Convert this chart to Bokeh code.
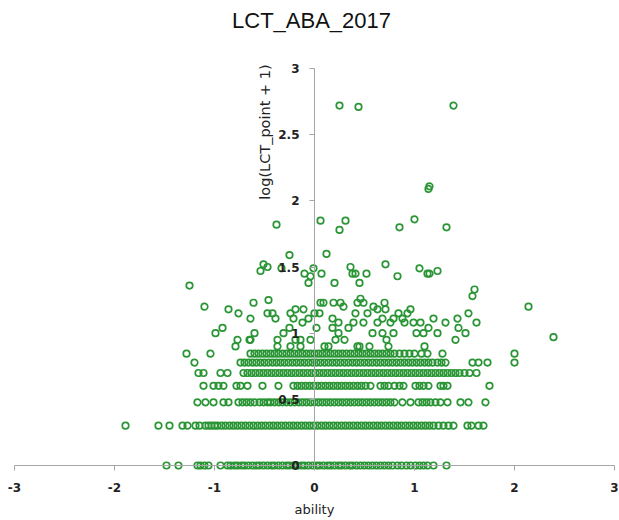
import math
from bokeh.plotting import figure
from bokeh.models import (LinearAxis, FixedTicker, Range1d, Label,
                          CustomJSTickFormatter, ColumnDataSource)
from bokeh.embed import file_html
from bokeh.resources import INLINE

# ---- data (ability vs log10(LCT_point + 1)) ----
row_0 = [-1.48, -1.36, -1.17, -1.14, -1.10, -1.06, -0.94, -0.87, -0.84, -0.80, -0.77, -0.73,
         -0.70, -0.66, -0.62, -0.58, -0.55, -0.51, -0.47, -0.43, -0.40, -0.36, -0.32, -0.28,
         -0.25, -0.21, -0.17, -0.13, -0.10, -0.06, -0.02, 0.02, 0.05, 0.09, 0.13, 0.16, 0.20,
         0.24, 0.27, 0.31, 0.35, 0.38, 0.42, 0.46, 0.50, 0.54, 0.58, 0.62, 0.66, 0.70, 0.74,
         0.78, 0.83, 0.87, 0.92, 0.96, 1.01, 1.05, 1.09, 1.13, 1.19, 1.32]
row_1 = [-1.89, -1.56, -1.45, -1.32, -1.27, -1.19, -1.15, -1.09, -1.06, -1.03, -1.00, -0.97,
         -0.93, -0.89, -0.85, -0.81, -0.77, -0.73, -0.69, -0.65, -0.61, -0.57, -0.53, -0.49,
         -0.45, -0.41, -0.37, -0.33, -0.29, -0.25, -0.21, -0.17, -0.13, -0.09, -0.05, -0.01,
         0.03, 0.07, 0.11, 0.15, 0.19, 0.23, 0.27, 0.31, 0.35, 0.39, 0.43, 0.47, 0.51, 0.55,
         0.59, 0.63, 0.67, 0.71, 0.75, 0.79, 0.83, 0.87, 0.91, 0.95, 0.99, 1.03, 1.07, 1.11,
         1.15, 1.19, 1.24, 1.29, 1.34, 1.39, 1.53, 1.57, 1.64, 1.69]
row_2 = [-1.17, -1.09, -1.01, -0.91, -0.86, -0.76, -0.72, -0.68, -0.64, -0.60, -0.55, -0.51,
         -0.47, -0.44, -0.40, -0.36, -0.32, -0.28, -0.24, -0.20, -0.16, -0.12, -0.08, -0.04,
         0.00, 0.04, 0.08, 0.12, 0.16, 0.20, 0.24, 0.28, 0.32, 0.36, 0.40, 0.44, 0.48, 0.52,
         0.56, 0.60, 0.64, 0.68, 0.72, 0.76, 0.80, 0.88, 0.96, 1.04, 1.08, 1.12, 1.16, 1.21,
         1.26, 1.33, 1.46, 1.54, 1.71]
row_3 = [-1.11, -1.01, -0.96, -0.91, -0.78, -0.74, -0.67, -0.52, -0.36, -0.21, -0.17, -0.13,
         -0.09, -0.05, -0.01, 0.03, 0.07, 0.11, 0.15, 0.19, 0.23, 0.27, 0.31, 0.35, 0.39, 0.43,
         0.47, 0.51, 0.56, 0.66, 0.70, 0.74, 0.80, 0.85, 0.89, 1.01, 1.05, 1.09, 1.14, 1.26,
         1.29, 1.33, 1.75]
row_4 = [-1.16, -1.11, -0.94, -0.87, -0.71, -0.67, -0.63, -0.59, -0.55, -0.51, -0.47, -0.43,
         -0.39, -0.35, -0.31, -0.27, -0.23, -0.19, -0.15, -0.11, -0.07, -0.03, 0.01, 0.05, 0.09,
         0.13, 0.17, 0.21, 0.25, 0.29, 0.33, 0.37, 0.41, 0.45, 0.49, 0.53, 0.57, 0.61, 0.65,
         0.69, 0.73, 0.77, 0.81, 0.85, 0.89, 0.93, 0.97, 1.01, 1.05, 1.09, 1.13, 1.17, 1.21,
         1.25, 1.29, 1.33, 1.37, 1.41, 1.45, 1.50, 1.55, 1.62]
row_5 = [-1.20, -0.74, -0.70, -0.66, -0.62, -0.58, -0.54, -0.50, -0.46, -0.42, -0.38, -0.34,
         -0.30, -0.26, -0.22, -0.18, -0.14, -0.10, -0.06, -0.02, 0.02, 0.06, 0.10, 0.14, 0.18,
         0.22, 0.26, 0.30, 0.34, 0.38, 0.42, 0.46, 0.50, 0.54, 0.58, 0.62, 0.66, 0.70, 0.74,
         0.78, 0.82, 0.86, 0.90, 0.94, 0.98, 1.02, 1.06, 1.10, 1.14, 1.18, 1.23, 1.27, 1.31,
         1.58, 1.64, 1.73, 2.00]
row_6 = [-1.28, -1.04, -0.64, -0.60, -0.56, -0.52, -0.48, -0.44, -0.40, -0.36, -0.32, -0.28,
         -0.24, -0.20, -0.16, -0.12, -0.08, -0.04, 0.00, 0.04, 0.08, 0.12, 0.16, 0.20, 0.24,
         0.28, 0.32, 0.36, 0.40, 0.44, 0.48, 0.52, 0.56, 0.60, 0.64, 0.68, 0.72, 0.76, 0.80,
         0.85, 0.90, 0.95, 1.00, 1.07, 1.13, 1.28, 2.00]
row_points = [0, 1, 2, 3, 4, 5, 6]          # LCT_point of each dense row
row_x = [row_0, row_1, row_2, row_3, row_4, row_5, row_6]

upper_x = [0.25, 0.44, 1.39, 1.14, 1.15, -0.38, 0.06, 0.25, 0.31, 0.85, 1.00, 1.32,
           -0.25, 0.12, -0.51, -0.47, -0.54, -0.33, -0.01, -0.10, -0.04, -0.06, 0.07, 0.36,
           0.38, 0.41, 0.52, 0.45, 0.20, 0.71, 0.83, 1.05, 1.13, 1.15, 1.23, 1.60, 1.58, 2.14,
           2.39, -1.25,
           -1.10, -0.86, -0.76, -0.61, -0.46, -0.64, -0.47, -0.42, -0.39, -0.24, -0.19, -0.21,
           -0.11, -0.12, -0.06, 0.00, -0.99, -0.92, -0.77, -0.60, -0.65, -0.37, -0.31, -0.25,
           -0.19, -0.14, -0.04, 0.02,
           0.06, 0.09, 0.19, 0.26, 0.29, 0.43, 0.46, 0.49, 0.59, 0.63, 0.70, 0.71, 0.96, 0.93,
           1.54, 0.05, 0.18, 0.41, 0.53, 0.68, 0.79, 0.84, 0.88, 1.19, 1.31, 1.43, 1.44, 1.51,
           1.62, 0.18, 0.24, 0.24, 0.34, 0.39, 0.49, 0.58, 0.63, 0.68, 0.76, 0.79, 0.90, 0.99,
           1.06, 1.02, 1.09, 1.14, 1.23, 1.41,
           -0.79, -0.37, -0.24, -0.14, -0.64, 0.10, 0.30, 0.55, 0.72, 1.10, 0.45, 0.21, 0.14,
           0.43, 0.74]
upper_y = [2.72, 2.71, 2.72, 2.09, 2.11, 1.82, 1.85, 1.78, 1.85, 1.80, 1.86, 1.80,
           1.59, 1.60, 1.52, 1.50, 1.47, 1.49, 1.49, 1.45, 1.43, 1.38, 1.45, 1.50,
           1.45, 1.45, 1.45, 1.38, 1.38, 1.52, 1.43, 1.49, 1.45, 1.45, 1.47, 1.33, 1.28, 1.20,
           0.97, 1.36,
           1.20, 1.18, 1.15, 1.23, 1.25, 1.11, 1.15, 1.15, 1.11, 1.15, 1.18, 1.11,
           1.18, 1.08, 1.11, 1.15, 1.00, 1.04, 0.95, 1.00, 0.95, 0.95, 1.00, 1.04,
           0.95, 0.95, 0.95, 1.04,
           1.23, 1.23, 1.23, 1.23, 1.20, 1.23, 1.26, 1.23, 1.20, 1.18, 1.23, 1.18, 1.18, 1.15,
           1.15, 1.15, 1.11, 1.15, 1.15, 1.11, 1.11, 1.15, 1.11, 1.11, 1.08, 1.11, 1.04, 1.00,
           1.08, 1.04, 1.08, 1.00, 1.04, 1.08, 1.08, 1.00, 1.08, 1.00, 1.08, 1.00, 1.08, 1.08,
           1.08, 1.00, 1.00, 1.04, 1.00, 0.95,
           0.90, 0.90, 0.90, 0.90, 0.95, 0.90, 0.95, 0.90, 0.95, 0.90, 0.90, 0.95, 0.90,
           0.90, 0.90]

x_ticks = [-3, -2, -1, 0, 1, 2, 3]
y_ticks = [0, 0.5, 1, 1.5, 2, 2.5, 3]

# build plotting table
xs, ys = [], []
for pts, rx in zip(row_points, row_x):
    xs += rx
    ys += [math.log10(pts + 1)] * len(rx)
xs += upper_x
ys += upper_y
src = ColumnDataSource(dict(x=xs, y=ys))

# frame covers the full canvas: x px = 314 + 100*x, y px = 465 - 132.33*y
p = figure(width=619, height=520, output_backend="svg", toolbar_location=None,
           x_range=Range1d(-3.14, 3.05), y_range=Range1d(-0.4156, 3.514),
           x_axis_location=None, y_axis_location=None, title=None,
           min_border_left=0, min_border_right=0, min_border_top=0, min_border_bottom=0)
p.outline_line_color = None
p.xgrid.visible = False
p.ygrid.visible = False
p.background_fill_color = "white"
p.border_fill_color = "white"

p.scatter("x", "y", source=src, size=6.5, marker="circle", fill_color=None,
          line_color="#2a9535", line_width=1.7)

axis_col = "#a6a6a6"
font = "DejaVu Sans"
fmt = CustomJSTickFormatter(code="return String(tick)")

xa = LinearAxis(fixed_location=0, ticker=FixedTicker(ticks=x_ticks), bounds=(-3, 3),
                formatter=fmt)
xa.axis_line_color = axis_col
xa.major_tick_line_color = axis_col
xa.major_tick_out = 5
xa.major_tick_in = 0
xa.minor_tick_line_color = None
xa.major_label_standoff = 12
xa.major_label_text_font = font
xa.major_label_text_font_size = "12px"
xa.major_label_text_font_style = "bold"
xa.major_label_text_color = "#222222"
xa.axis_label = "ability"
xa.axis_label_text_font = font
xa.axis_label_text_font_style = "normal"
xa.axis_label_text_font_size = "13px"
xa.axis_label_text_color = "#222222"
xa.axis_label_standoff = 7
p.add_layout(xa, "below")

ya = LinearAxis(fixed_location=0, ticker=FixedTicker(ticks=y_ticks), bounds=(0, 3),
                formatter=CustomJSTickFormatter(code="return String(tick)"))
ya.axis_line_color = axis_col
ya.major_tick_line_color = axis_col
ya.major_tick_out = 5
ya.major_tick_in = 0
ya.minor_tick_line_color = None
ya.major_label_standoff = 10
ya.major_label_text_font = font
ya.major_label_text_font_size = "12px"
ya.major_label_text_font_style = "bold"
ya.major_label_text_color = "#222222"
p.add_layout(ya, "left")

p.add_layout(Label(x=-0.5, y=2.52, text="log(LCT_point + 1)", angle=math.pi / 2,
                   text_align="center", text_baseline="middle", text_font=font,
                   text_font_size="14.5px", text_color="#222222"))
p.add_layout(Label(x=-0.03, y=3.36, text="LCT_ABA_2017", text_align="center",
                   text_baseline="middle", text_font="Liberation Sans",
                   text_font_size="22px", text_color="#111111"))

open("out.html", "w").write(file_html(p, INLINE))
